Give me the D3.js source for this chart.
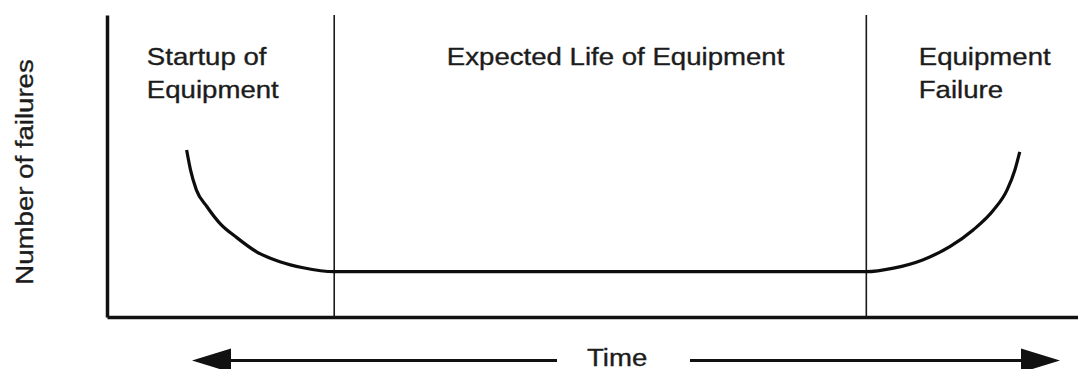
<!DOCTYPE html>
<html>
<head>
<meta charset="utf-8">
<script src="https://cdn.jsdelivr.net/npm/d3@7"></script>
<style>
    body { margin: 0; background: #fff; }
    text { font-family: "Liberation Sans", Arial, sans-serif; fill: #1c1c1c; stroke: #1c1c1c; stroke-width: 0.35px; }
</style>
</head>
<body>
<div class="main_content"></div>
<script>
// bathtub curve (time 0-100, failures 0-100)
const timeValues = [8.2, 8.6, 9.2, 10.3, 11.6, 13.4, 15.4, 17.8, 20.2, 23.4, 50, 78.2, 81.0, 84.0, 86.8, 89.2, 91.3, 92.7, 93.5, 94.0];
const failureValues = [55.3, 48.7, 42.1, 36.5, 31.1, 26.2, 21.6, 18.3, 16.3, 15, 15, 15, 16.2, 18.9, 23.3, 28.8, 35.4, 42.1, 48.7, 54.7];

// phase boundaries on the time axis
const phaseBounds = [23.4, 78.2];
const phaseLabels = [
    {lines: ['Startup of', 'Equipment'], t: 4.1},
    {lines: ['Expected Life of Equipment'], t: 35.0},
    {lines: ['Equipment', 'Failure'], t: 83.6}
];
const yLabel = 'Number of failures';
const xLabel = 'Time';

const width = 1078, height = 369;
const margin = {top: 15, right: 0, bottom: 52, left: 107};
const stretch = 1.15; // the scanned lettering is wider than Liberation Sans

let svg = d3.select('.main_content')
    .append('svg')
    .attr('width', width)
    .attr('height', height);

let x = d3.scaleLinear().domain([0, 100]).range([margin.left, width]);
let y = d3.scaleLinear().domain([0, 100]).range([height - margin.bottom, margin.top]);

// axes with no ticks, just the heavy lines
svg.append('g')
    .attr('transform', `translate(0,${y(0)})`)
    .call(d3.axisBottom(x).ticks(0).tickSizeOuter(0))
    .select('.domain')
    .style('stroke', '#111')
    .style('stroke-width', 3.5);

svg.append('g')
    .attr('transform', `translate(${x(0)},0)`)
    .call(d3.axisLeft(y).ticks(0).tickSizeOuter(0))
    .select('.domain')
    .style('stroke', '#111')
    .style('stroke-width', 3.5);

// phase separators
svg.selectAll('.phase')
    .data(phaseBounds)
    .enter().append('line')
    .attr('x1', d => x(d)).attr('x2', d => x(d))
    .attr('y1', y(100)).attr('y2', y(0))
    .style('stroke', '#1a1a1a')
    .style('stroke-width', 1.6);

// the curve - monotone keeps the flat middle flat
let pts = timeValues.map((t, i) => [t, failureValues[i]]);
let line = d3.line()
    .x(d => x(d[0]))
    .y(d => y(d[1]))
    .curve(d3.curveMonotoneX);

svg.append('path')
    .datum(pts)
    .attr('d', line)
    .style('fill', 'none')
    .style('stroke', '#0d0d0d')
    .style('stroke-width', 3.2);

// phase labels
phaseLabels.forEach(p => {
    let txt = svg.append('text')
        .attr('transform', `translate(${x(p.t)},65) scale(${stretch},1)`)
        .style('font-size', '24px');
    p.lines.forEach((l, i) => {
        txt.append('tspan')
            .attr('x', 0)
            .attr('y', i * 33)
            .text(l);
    });
});

// y label
svg.append('text')
    .attr('transform', `translate(33,172) rotate(-90) scale(${stretch},1)`)
    .attr('text-anchor', 'middle')
    .style('font-size', '24px')
    .text(yLabel);

// time arrow
const arrowY = 360.5;
svg.append('line')
    .attr('x1', 228).attr('x2', 557)
    .attr('y1', arrowY).attr('y2', arrowY)
    .style('stroke', '#111').style('stroke-width', 3);
svg.append('line')
    .attr('x1', 690).attr('x2', 1024)
    .attr('y1', arrowY).attr('y2', arrowY)
    .style('stroke', '#111').style('stroke-width', 3);
svg.append('path')
    .attr('d', `M192,${arrowY}L231,${arrowY - 12}L231,${arrowY + 12}Z`)
    .style('fill', '#111');
svg.append('path')
    .attr('d', `M1060,${arrowY}L1021,${arrowY - 12}L1021,${arrowY + 12}Z`)
    .style('fill', '#111');

svg.append('text')
    .attr('transform', `translate(587,366) scale(${stretch},1)`)
    .style('font-size', '24px')
    .text(xLabel);
</script>
</body>
</html>
